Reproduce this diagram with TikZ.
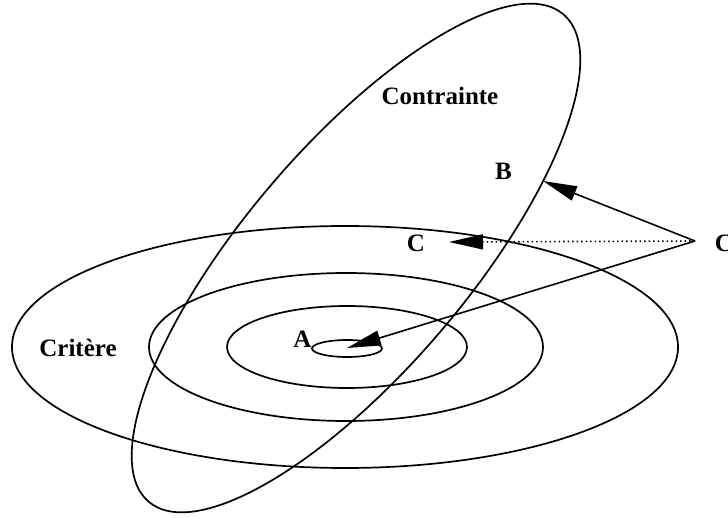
\documentclass[tikz,border=0pt]{standalone}
\usepackage{fontspec}
\setmainfont{Liberation Serif}
\usetikzlibrary{arrows.meta}
\begin{document}
\begin{tikzpicture}[x=1pt,y=-1pt,
  curve/.style={line width=1.7pt},
  arr/.style={line width=1.6pt,-{Triangle[length=34pt,width=15pt]}},
  lab/.style={font=\fontsize{25}{30}\selectfont\bfseries,inner sep=0pt,anchor=base}]
\useasboundingbox (0,0) rectangle (728,518);
% concentric criterion ellipses
\draw[curve] (345,347) ellipse [x radius=333pt, y radius=121pt];
\draw[curve] (346,347) ellipse [x radius=197pt, y radius=74pt];
\draw[curve] (347,347) ellipse [x radius=120pt, y radius=41pt];
\draw[curve] (347,348.5) ellipse [x radius=35pt, y radius=8.5pt];
% tilted constraint ellipse
\draw[curve, shift={(356,258)}, rotate=49.6] (0,0) ellipse [x radius=320pt, y radius=112pt];
% points
\coordinate (O) at (695,241);
\coordinate (Bt) at (543,181);
\coordinate (Ct) at (449,242);
\coordinate (At) at (347,348);
\draw[arr] (O) -- (Bt);
\draw[arr, dash pattern=on 1.5pt off 3pt] (O) -- (Ct);
\draw[arr] (O) -- (At);
% labels
\node[lab] (contr) at (440,105) {Contrainte};
\node[lab] (crit) at (78,357) {Critère};
\node[lab] (lB) at (503.5,180) {B};
\node[lab] (lC) at (416,252) {C};
\node[lab] (lA) at (302.5,348) {A};
\node[lab] (lO) at (724,252) {C};
\end{tikzpicture}
\end{document}
